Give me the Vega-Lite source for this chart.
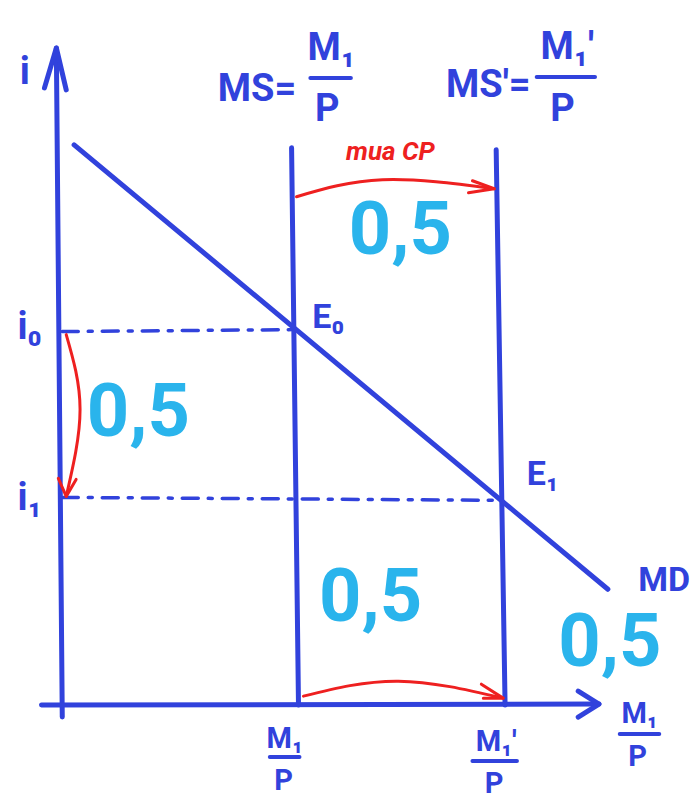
{
  "$schema": "https://vega.github.io/schema/vega-lite/v6.json",
  "width": 690,
  "height": 799,
  "autosize": {"type": "fit", "contains": "padding"},
  "padding": 0,
  "background": "white",
  "config": {"view": {"stroke": null}},
  "datasets": {
    "segs": [
      {"id": "yaxis", "kind": "blue", "o": 1, "x": 0, "y": -1.2},
      {"id": "yaxis", "kind": "blue", "o": 2, "x": -0.6, "y": 65.8},
      {"id": "yhead", "kind": "blue", "o": 1, "x": -1.8, "y": 61.8},
      {"id": "yhead", "kind": "blue", "o": 2, "x": -0.6, "y": 65.8},
      {"id": "yhead", "kind": "blue", "o": 3, "x": 0.4, "y": 61.6},
      {"id": "xaxis", "kind": "blue", "o": 1, "x": -2.1, "y": 0},
      {"id": "xaxis", "kind": "blue", "o": 2, "x": 54.3, "y": 0.1},
      {"id": "xhead", "kind": "blue", "o": 1, "x": 52.2, "y": 1.4},
      {"id": "xhead", "kind": "blue", "o": 2, "x": 54.3, "y": 0.1},
      {"id": "xhead", "kind": "blue", "o": 3, "x": 52.2, "y": -1.2},
      {"id": "ms0", "kind": "blue", "o": 1, "x": 23.2, "y": 55.8},
      {"id": "ms0", "kind": "blue", "o": 2, "x": 23.9, "y": 0},
      {"id": "ms1", "kind": "blue", "o": 1, "x": 43.9, "y": 55.6},
      {"id": "ms1", "kind": "blue", "o": 2, "x": 44.8, "y": 0},
      {"id": "md", "kind": "blue", "o": 1, "x": 1.2, "y": 56.1},
      {"id": "md", "kind": "blue", "o": 2, "x": 55.2, "y": 11.6},
      {"id": "dash0", "kind": "dash", "o": 1, "x": 0, "y": 37.4},
      {"id": "dash0", "kind": "dash", "o": 2, "x": 23.7, "y": 37.6},
      {"id": "dash1", "kind": "dash", "o": 1, "x": 0, "y": 20.8},
      {"id": "dash1", "kind": "dash", "o": 2, "x": 44.4, "y": 20.5},
      {"id": "bar1", "kind": "bar", "o": 1, "x": 25.1, "y": 62.8},
      {"id": "bar1", "kind": "bar", "o": 2, "x": 29.2, "y": 62.8},
      {"id": "bar2", "kind": "bar", "o": 1, "x": 48.0, "y": 62.9},
      {"id": "bar2", "kind": "bar", "o": 2, "x": 53.9, "y": 62.9},
      {"id": "bar3", "kind": "bar", "o": 1, "x": 21.0, "y": -5.2},
      {"id": "bar3", "kind": "bar", "o": 2, "x": 24.0, "y": -5.2},
      {"id": "bar4", "kind": "bar", "o": 1, "x": 41.5, "y": -5.6},
      {"id": "bar4", "kind": "bar", "o": 2, "x": 46.0, "y": -5.6},
      {"id": "bar5", "kind": "bar", "o": 1, "x": 56.4, "y": -2.9},
      {"id": "bar5", "kind": "bar", "o": 2, "x": 60.4, "y": -2.9},
      {"id": "rtop", "kind": "redcurve", "o": 1, "x": 23.7, "y": 50.9},
      {"id": "rtop", "kind": "redcurve", "o": 2, "x": 32.4, "y": 52.6},
      {"id": "rtop", "kind": "redcurve", "o": 3, "x": 43.7, "y": 51.7},
      {"id": "rtoph", "kind": "redhead", "o": 1, "x": 41.5, "y": 52.5},
      {"id": "rtoph", "kind": "redhead", "o": 2, "x": 43.7, "y": 51.7},
      {"id": "rtoph", "kind": "redhead", "o": 3, "x": 41.1, "y": 51.3},
      {"id": "rbot", "kind": "redcurve", "o": 1, "x": 24.4, "y": 0.9},
      {"id": "rbot", "kind": "redcurve", "o": 2, "x": 34.0, "y": 2.4},
      {"id": "rbot", "kind": "redcurve", "o": 3, "x": 44.6, "y": 0.7},
      {"id": "rboth", "kind": "redhead", "o": 1, "x": 42.4, "y": 2.1},
      {"id": "rboth", "kind": "redhead", "o": 2, "x": 44.6, "y": 0.7},
      {"id": "rboth", "kind": "redhead", "o": 3, "x": 42.6, "y": 0.7},
      {"id": "rleft", "kind": "redcurve", "o": 1, "x": 0.4, "y": 37.1},
      {"id": "rleft", "kind": "redcurve", "o": 2, "x": 1.8, "y": 29.6},
      {"id": "rleft", "kind": "redcurve", "o": 3, "x": 0.4, "y": 20.9},
      {"id": "rlefth", "kind": "redhead", "o": 1, "x": -0.4, "y": 22.7},
      {"id": "rlefth", "kind": "redhead", "o": 2, "x": 0.4, "y": 20.9},
      {"id": "rlefth", "kind": "redhead", "o": 3, "x": 1.4, "y": 22.6}
    ],
    "labels": [
      {"t": "i", "g": "lab", "x": -3.8, "y": 63.3},
      {"t": "i₀", "g": "lab", "x": -3.3, "y": 37.8},
      {"t": "i₁", "g": "lab", "x": -3.3, "y": 20.6},
      {"t": "MS=", "g": "lab", "x": 19.7, "y": 61.6},
      {"t": "M₁", "g": "lab", "x": 27.2, "y": 65.7},
      {"t": "P", "g": "lab", "x": 26.8, "y": 59.6},
      {"t": "MS'=", "g": "lab", "x": 43.1, "y": 62.0},
      {"t": "M₁'", "g": "lab", "x": 51.1, "y": 65.8},
      {"t": "P", "g": "lab", "x": 50.6, "y": 59.6},
      {"t": "E₀", "g": "pt", "x": 26.9, "y": 38.8},
      {"t": "E₁", "g": "pt", "x": 48.6, "y": 23.0},
      {"t": "MD", "g": "pt", "x": 60.9, "y": 12.4},
      {"t": "M₁", "g": "ax", "x": 22.5, "y": -3.4},
      {"t": "P", "g": "ax", "x": 22.4, "y": -7.6},
      {"t": "M₁'", "g": "ax", "x": 43.9, "y": -3.7},
      {"t": "P", "g": "ax", "x": 43.7, "y": -7.9},
      {"t": "M₁", "g": "ax", "x": 58.4, "y": -0.9},
      {"t": "P", "g": "ax", "x": 58.2, "y": -5.2},
      {"t": "mua CP", "g": "red", "x": 33.2, "y": 55.4},
      {"t": "0,5", "g": "num", "x": 34.2, "y": 47.4},
      {"t": "0,5", "g": "num", "x": 7.7, "y": 29.1},
      {"t": "0,5", "g": "num", "x": 31.2, "y": 10.6},
      {"t": "0,5", "g": "num", "x": 55.4, "y": 6.1}
    ]
  },
  "encoding": {
    "x": {"field": "x", "type": "quantitative", "scale": {"domain": [-6.3, 62.7], "nice": false, "zero": false}, "axis": null},
    "y": {"field": "y", "type": "quantitative", "scale": {"domain": [-9.3, 70.6], "nice": false, "zero": false}, "axis": null}
  },
  "layer": [
    {
      "data": {"name": "segs"},
      "transform": [{"filter": "datum.kind == 'blue'"}],
      "mark": {"type": "line", "color": "#3142dc", "strokeWidth": 5, "strokeCap": "round", "strokeJoin": "round"},
      "encoding": {"detail": {"field": "id"}, "order": {"field": "o"}}
    },
    {
      "data": {"name": "segs"},
      "transform": [{"filter": "datum.kind == 'bar'"}],
      "mark": {"type": "line", "color": "#3142dc", "strokeWidth": 4, "strokeCap": "round"},
      "encoding": {"detail": {"field": "id"}, "order": {"field": "o"}}
    },
    {
      "data": {"name": "segs"},
      "transform": [{"filter": "datum.kind == 'dash'"}],
      "mark": {"type": "line", "color": "#3142dc", "strokeWidth": 3.5, "strokeDash": [16, 10, 4, 10], "strokeCap": "round"},
      "encoding": {"detail": {"field": "id"}, "order": {"field": "o"}}
    },
    {
      "data": {"name": "segs"},
      "transform": [{"filter": "datum.kind == 'redcurve'"}],
      "mark": {"type": "line", "color": "#ee2020", "strokeWidth": 3, "interpolate": "natural", "strokeCap": "round"},
      "encoding": {"detail": {"field": "id"}, "order": {"field": "o"}}
    },
    {
      "data": {"name": "segs"},
      "transform": [{"filter": "datum.kind == 'redhead'"}],
      "mark": {"type": "line", "color": "#ee2020", "strokeWidth": 3, "strokeCap": "round", "strokeJoin": "round"},
      "encoding": {"detail": {"field": "id"}, "order": {"field": "o"}}
    },
    {
      "data": {"name": "labels"},
      "transform": [{"filter": "datum.g == 'lab'"}],
      "mark": {"type": "text", "color": "#3142dc", "font": "Roboto", "fontWeight": "bold", "fontSize": 38, "align": "center", "baseline": "middle"},
      "encoding": {"text": {"field": "t"}}
    },
    {
      "data": {"name": "labels"},
      "transform": [{"filter": "datum.g == 'pt'"}],
      "mark": {"type": "text", "color": "#3142dc", "font": "Roboto", "fontWeight": "bold", "fontSize": 34, "align": "center", "baseline": "middle"},
      "encoding": {"text": {"field": "t"}}
    },
    {
      "data": {"name": "labels"},
      "transform": [{"filter": "datum.g == 'ax'"}],
      "mark": {"type": "text", "color": "#3142dc", "font": "Roboto", "fontWeight": "bold", "fontSize": 29, "align": "center", "baseline": "middle"},
      "encoding": {"text": {"field": "t"}}
    },
    {
      "data": {"name": "labels"},
      "transform": [{"filter": "datum.g == 'red'"}],
      "mark": {"type": "text", "color": "#ee2020", "font": "Roboto", "fontWeight": "bold", "fontStyle": "italic", "fontSize": 26, "align": "center", "baseline": "middle"},
      "encoding": {"text": {"field": "t"}}
    },
    {
      "data": {"name": "labels"},
      "transform": [{"filter": "datum.g == 'num'"}],
      "mark": {"type": "text", "color": "#2ab4ec", "font": "Roboto", "fontWeight": "bold", "fontSize": 74, "align": "center", "baseline": "middle"},
      "encoding": {"text": {"field": "t"}}
    }
  ]
}
